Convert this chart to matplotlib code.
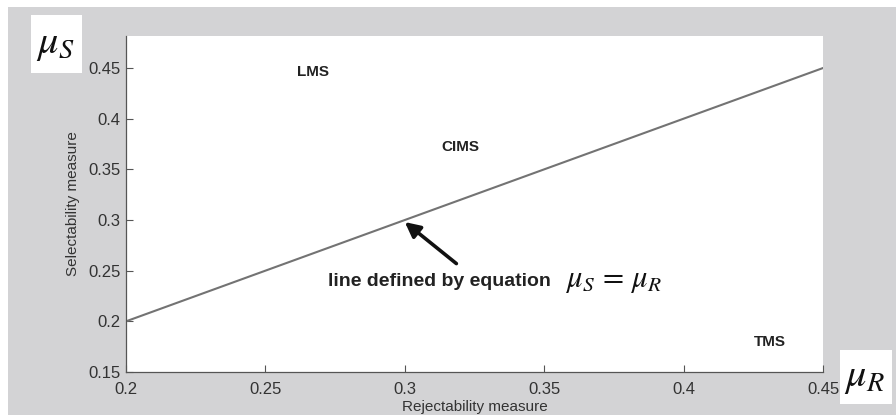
import matplotlib
matplotlib.use('Agg')
import matplotlib.pyplot as plt
from matplotlib.patches import Rectangle

# data: the line mu_S = mu_R
mu_r = [0.2, 0.45]
mu_s = [0.2, 0.45]

xticks = [0.2, 0.25, 0.3, 0.35, 0.4, 0.45]
yticks = [0.15, 0.2, 0.25, 0.3, 0.35, 0.4, 0.45]
xtick_labels = ['0.2', '0.25', '0.3', '0.35', '0.4', '0.45']
ytick_labels = ['0.15', '0.2', '0.25', '0.3', '0.35', '0.4', '0.45']

region_names = ['LMS', 'CIMS', 'TMS']
region_x = [0.267, 0.32, 0.431]
region_y = [0.446, 0.372, 0.180]

plt.rcParams['font.family'] = ['Liberation Sans', 'DejaVu Sans']
plt.rcParams['mathtext.fontset'] = 'stix'

W, H = 896, 415
fig = plt.figure(figsize=(W / 100, H / 100), dpi=100)
fig.patch.set_facecolor('white')

gray = '#d3d3d5'
# gray panel behind everything
fig.patches.append(Rectangle((8 / W, 0), 1 - 8 / W, 1 - 7 / H, transform=fig.transFigure,
                             facecolor=gray, edgecolor='none', zorder=-10))
# white boxes for the axis symbols
fig.patches.append(Rectangle((31 / W, 1 - 73 / H), 51 / W, 58 / H, transform=fig.transFigure,
                             facecolor='white', edgecolor='none', zorder=-5))
fig.patches.append(Rectangle((840 / W, 1 - 404 / H), 52 / W, 54 / H, transform=fig.transFigure,
                             facecolor='white', edgecolor='none', zorder=-5))

ax = fig.add_axes([126 / W, 1 - 372 / H, (823 - 126) / W, (372 - 36) / H])
ax.set_facecolor('white')

ax.plot(mu_r, mu_s, color='#737373', linewidth=1.5)

ax.set_xlim(0.2, 0.45)
ax.set_ylim(0.15, 0.4816)
ax.set_xticks(xticks)
ax.set_xticklabels(xtick_labels)
ax.set_yticks(yticks)
ax.set_yticklabels(ytick_labels)
ax.tick_params(direction='in', length=5, width=0.8, color='#555555',
               labelsize=12, labelcolor='#333333')
ax.tick_params(axis='x', pad=7)
ax.tick_params(axis='y', pad=4)
for s in ['top', 'right']:
    ax.spines[s].set_visible(False)
for s in ['left', 'bottom']:
    ax.spines[s].set_color('#555555')
    ax.spines[s].set_linewidth(0.9)

ax.set_xlabel('Rejectability measure', fontsize=11, color='#333333', labelpad=2)
ax.set_ylabel('Selectability measure', fontsize=11, color='#333333', labelpad=6)

for name, x, y in zip(region_names, region_x, region_y):
    ax.text(x, y, name, fontsize=11, fontweight='bold', color='#222222',
            ha='center', va='center')

ax.annotate('', xy=(0.3, 0.298), xytext=(0.3185, 0.257),
            arrowprops=dict(arrowstyle='-|>,head_length=0.9,head_width=0.45',
                            color='#111111', lw=2.6, shrinkA=0, shrinkB=0))
ax.text(0.2725, 0.2398, 'line defined by equation', fontsize=14, fontweight='bold',
        color='#222222', ha='left', va='center')
ax.text(0.3575, 0.2405, r'$\mu_S\,=\,\mu_R$', fontsize=22, color='#111111',
        ha='left', va='center')

# axis symbols
fig.text(55 / W, 1 - 44 / H, r'$\mu_S$', fontsize=29, color='#111111', ha='center', va='center')
fig.text(865 / W, 1 - 377 / H, r'$\mu_R$', fontsize=29, color='#111111', ha='center', va='center')

fig.savefig('out.png', dpi=100, facecolor=fig.get_facecolor())
